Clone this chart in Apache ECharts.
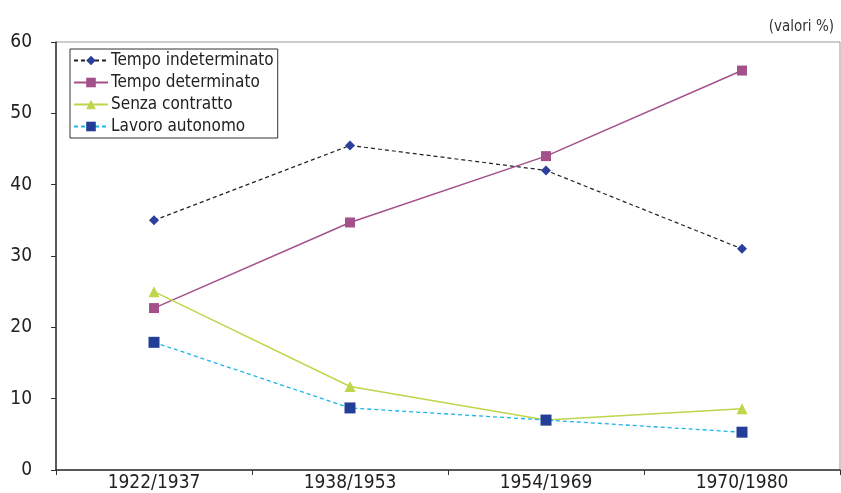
<!DOCTYPE html>
<html><head><meta charset="utf-8">
<script src="https://cdn.jsdelivr.net/npm/echarts@6/dist/echarts.min.js"></script>
<style>html,body{margin:0;padding:0;background:#fff}#c{width:841px;height:493px}</style>
</head><body><div id="c"></div>
<script>
var categories = ['1922/1937','1938/1953','1954/1969','1970/1980'];
var tempoIndeterminato = [35.0, 45.5, 42.0, 31.0];
var tempoDeterminato = [22.7, 34.7, 44.0, 56.0];
var senzaContratto = [25.0, 11.7, 7.0, 8.6];
var lavoroAutonomo = [17.9, 8.7, 7.0, 5.3];
var yTicks = [0,10,20,30,40,50,60];
var seriesNames = ['Tempo indeterminato','Tempo determinato','Senza contratto','Lavoro autonomo'];

var font = 'DejaVu Sans Condensed';
var chart = echarts.init(document.getElementById('c'));
chart.setOption({
  animation:false,
  title:{text:'(valori %)', right:2, top:15, textStyle:{fontFamily:font, fontSize:15, fontWeight:'normal', color:'#333'}},
  grid:{left:56, right:1, top:42, bottom:23, show:true, borderColor:'#999', borderWidth:1},
  legend:{
    data:seriesNames, orient:'vertical', left:70, top:49,
    backgroundColor:'#fff', borderColor:'#333', borderWidth:1, padding:[3,4,3,3],
    itemGap:5, itemWidth:34, itemHeight:12,
    textStyle:{fontFamily:font, fontSize:17, color:'#222', padding:[0,0,0,-2]}
  },
  xAxis:{type:'category', data:categories, boundaryGap:true,
    axisLine:{lineStyle:{color:'#333', width:1.5}},
    axisTick:{show:true, length:5, inside:false, lineStyle:{color:'#333'}},
    axisLabel:{fontFamily:font, fontSize:19, color:'#222', margin:4}},
  yAxis:{type:'value', min:yTicks[0], max:yTicks[yTicks.length-1], interval:10,
    splitLine:{show:false},
    axisLine:{show:true, lineStyle:{color:'#333', width:1.5}},
    axisTick:{show:true, length:5, lineStyle:{color:'#333'}},
    axisLabel:{fontFamily:font, fontSize:19, color:'#222', margin:24}},
  series:[
    {name:seriesNames[0], type:'line', data:tempoIndeterminato, symbol:'diamond', symbolSize:10,
     itemStyle:{color:'#2B3F9B'}, lineStyle:{color:'#222', width:1.2, type:[4,3]}},
    {name:seriesNames[1], type:'line', data:tempoDeterminato, symbol:'rect', symbolSize:10,
     itemStyle:{color:'#A4508A'}, lineStyle:{color:'#A4508A', width:1.5}},
    {name:seriesNames[2], type:'line', data:senzaContratto, symbol:'triangle', symbolSize:11,
     itemStyle:{color:'#BED64B'}, lineStyle:{color:'#BED64B', width:1.5}},
    {name:seriesNames[3], type:'line', data:lavoroAutonomo, symbol:'rect', symbolSize:11,
     itemStyle:{color:'#233E97'}, lineStyle:{color:'#1CB4EA', width:1.3, type:[4,3]}}
  ]
});
</script></body></html>
